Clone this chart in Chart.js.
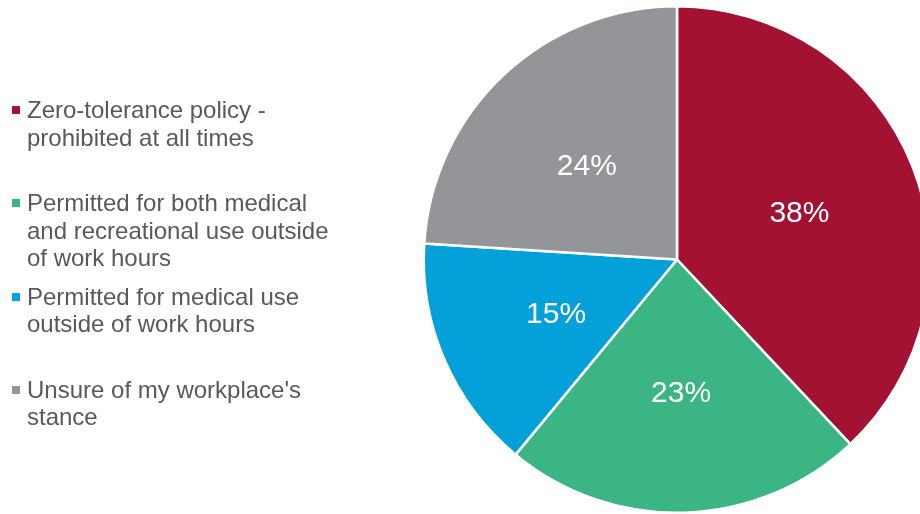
<!DOCTYPE html>
<html>
<head>
<meta charset="utf-8">
<script src="https://cdn.jsdelivr.net/npm/chart.js@4"></script>
<style>
  html, body { margin: 0; padding: 0; background: #fff; overflow: hidden; width: 920px; height: 514px; }
  #wrap { position: absolute; left: 0; top: 0; width: 940px; height: 514px; }
  #legend { position: absolute; left: 0; top: 96px; font-family: "Liberation Sans", Arial, sans-serif; font-size: 24px; color: #595959; }
  .item { position: relative; height: 93.3px; padding-left: 27px; line-height: 27.5px; }
  .box { position: absolute; left: 12px; top: 10px; width: 8px; height: 8px; }
</style>
</head>
<body>
<div id="wrap"><canvas id="pie" width="940" height="514"></canvas></div>
<div id="legend"></div>
<script>
const categories = [
    ["Zero-tolerance policy -", "prohibited at all times"],
    ["Permitted for both medical", "and recreational use outside", "of work hours"],
    ["Permitted for medical use", "outside of work hours"],
    ["Unsure of my workplace's", "stance"]
];
const shares = [38, 23, 15, 24];
const colors = ["#A31133", "#3BB583", "#04A0D9", "#939598"];

// legend on the left, built from the same arrays
const legend = document.getElementById("legend");
categories.forEach((lines, i) => {
    const item = document.createElement("div");
    item.className = "item";
    const box = document.createElement("span");
    box.className = "box";
    box.style.background = colors[i];
    item.appendChild(box);
    lines.forEach(line => {
        const d = document.createElement("div");
        d.textContent = line;
        item.appendChild(d);
    });
    legend.appendChild(item);
});

// percentage labels inside slices
const sliceLabels = {
    id: "sliceLabels",
    afterDatasetsDraw(chart) {
        const ctx = chart.ctx;
        const meta = chart.getDatasetMeta(0);
        ctx.save();
        ctx.fillStyle = "#ffffff";
        ctx.font = "30px 'Liberation Sans', Arial, sans-serif";
        ctx.textAlign = "center";
        ctx.textBaseline = "middle";
        meta.data.forEach((arc, i) => {
            const mid = (arc.startAngle + arc.endAngle) / 2;
            const r = arc.outerRadius * 0.52;
            ctx.fillText(shares[i] + "%", arc.x + Math.cos(mid) * r, arc.y + Math.sin(mid) * r + 3);
        });
        ctx.restore();
    }
};

new Chart(document.getElementById("pie").getContext("2d"), {
    type: "pie",
    data: {
        labels: categories.map(l => l.join(" ")),
        datasets: [{
            data: shares,
            backgroundColor: colors,
            borderColor: "#ffffff",
            borderWidth: 2.5
        }]
    },
    options: {
        responsive: false,
        animation: false,
        layout: { padding: { left: 422, right: 8, top: 5, bottom: 0 } },
        plugins: {
            legend: { display: false },
            tooltip: { enabled: false }
        }
    },
    plugins: [sliceLabels]
});
</script>
</body>
</html>
